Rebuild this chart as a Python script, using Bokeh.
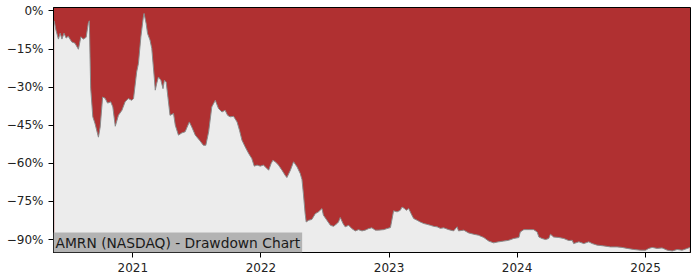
import pandas as pd
from bokeh.plotting import figure
from bokeh.models import (ColumnDataSource, FixedTicker, CustomJSTickFormatter, Label,
                          Range1d, DatetimeTickFormatter)
from bokeh.embed import file_html
from bokeh.resources import INLINE

ticker_name = "AMRN (NASDAQ) - Drawdown Chart"

dates = [
    "2020-05-22", "2020-05-27", "2020-06-03", "2020-06-08", "2020-06-13", "2020-06-19", "2020-06-25",
    "2020-07-01", "2020-07-11", "2020-07-20", "2020-07-30", "2020-08-06", "2020-08-13", "2020-08-21",
    "2020-08-27", "2020-08-30", "2020-09-03", "2020-09-09", "2020-09-15", "2020-09-25", "2020-09-30",
    "2020-10-07", "2020-10-14", "2020-10-21", "2020-10-30", "2020-11-05", "2020-11-12", "2020-11-21",
    "2020-12-01", "2020-12-10", "2020-12-19", "2020-12-29", "2021-01-03", "2021-01-12", "2021-01-17",
    "2021-01-24", "2021-01-31", "2021-02-02", "2021-02-08", "2021-02-12", "2021-02-19", "2021-02-24",
    "2021-03-03", "2021-03-06", "2021-03-10", "2021-03-15", "2021-03-22", "2021-03-28", "2021-04-01",
    "2021-04-06", "2021-04-11", "2021-04-17", "2021-04-27", "2021-05-02", "2021-05-11", "2021-05-21",
    "2021-05-30", "2021-06-11", "2021-06-18", "2021-06-28", "2021-07-10", "2021-07-21", "2021-07-28",
    "2021-08-05", "2021-08-14", "2021-08-24", "2021-09-02", "2021-09-12", "2021-09-21", "2021-09-28",
    "2021-10-05", "2021-10-15", "2021-10-25", "2021-11-01", "2021-11-08", "2021-11-17", "2021-11-27",
    "2021-12-06", "2021-12-13", "2021-12-21", "2021-12-30", "2022-01-08", "2022-01-16", "2022-01-23",
    "2022-01-30", "2022-02-04", "2022-02-11", "2022-02-20", "2022-03-02", "2022-03-11", "2022-03-16",
    "2022-03-26", "2022-04-04", "2022-04-14", "2022-04-23", "2022-04-28", "2022-05-02", "2022-05-07",
    "2022-05-10", "2022-05-17", "2022-05-26", "2022-06-05", "2022-06-14", "2022-06-24", "2022-06-28",
    "2022-07-08", "2022-07-18", "2022-07-27", "2022-08-06", "2022-08-10", "2022-08-15", "2022-08-23",
    "2022-08-29", "2022-09-08", "2022-09-17", "2022-09-27", "2022-10-06", "2022-10-16", "2022-10-25",
    "2022-11-04", "2022-11-13", "2022-11-23", "2022-12-02", "2022-12-17", "2022-12-26", "2023-01-05",
    "2023-01-09", "2023-01-14", "2023-01-24", "2023-02-02", "2023-02-07", "2023-02-14", "2023-02-19",
    "2023-02-26", "2023-03-05", "2023-03-12", "2023-03-22", "2023-03-31", "2023-04-10", "2023-04-19",
    "2023-04-29", "2023-05-08", "2023-05-18", "2023-05-27", "2023-06-06", "2023-06-20", "2023-07-04",
    "2023-07-14", "2023-07-18", "2023-08-02", "2023-08-16", "2023-08-30", "2023-09-13", "2023-09-28",
    "2023-10-12", "2023-10-26", "2023-11-09", "2023-11-24", "2023-12-08", "2023-12-22", "2024-01-06",
    "2024-01-10", "2024-01-20", "2024-02-03", "2024-02-17", "2024-02-27", "2024-03-03", "2024-03-12",
    "2024-03-22", "2024-03-31", "2024-04-05", "2024-04-14", "2024-04-29", "2024-05-13", "2024-05-27",
    "2024-06-06", "2024-06-10", "2024-06-25", "2024-07-09", "2024-07-23", "2024-08-02", "2024-08-16",
    "2024-09-04", "2024-09-23", "2024-10-12", "2024-10-26", "2024-11-10", "2024-11-28", "2024-12-18",
    "2025-01-01", "2025-01-10", "2025-01-20", "2025-02-03", "2025-02-17", "2025-03-04", "2025-03-18",
    "2025-04-01", "2025-04-15", "2025-04-30", "2025-05-07",
]

drawdown_pct = [
    -3.9, -7.6, -11.1, -8.8, -11.1, -8.8, -10.7,
    -10.0, -12.2, -12.7, -15.1, -10.2, -11.1, -10.4,
    -5.0, -3.9, -30.4, -41.7, -44.2, -49.7, -45.7,
    -33.9, -34.4, -36.3, -35.8, -37.8, -45.4, -41.1,
    -39.1, -35.8, -34.5, -35.2, -34.5, -24.0, -20.7,
    -10.2, -2.4, -1.0, -5.0, -8.9, -11.5, -14.8,
    -26.0, -31.2, -28.6, -26.0, -27.3, -30.6, -27.3,
    -28.0, -33.9, -41.1, -40.4, -45.0, -48.9, -48.0,
    -47.6, -43.7, -45.7, -48.9, -50.9, -52.9, -52.9,
    -47.6, -37.8, -35.2, -38.4, -39.8, -39.1, -41.1,
    -41.7, -41.5, -43.7, -47.0, -50.9, -53.5, -56.1,
    -58.1, -61.1, -60.7, -61.1, -60.7, -61.7, -62.7,
    -60.1, -58.8, -59.4, -60.7, -62.7, -64.7, -65.6,
    -62.7, -59.4, -61.4, -64.0, -66.4, -71.9, -79.8,
    -83.1, -82.4, -82.1, -79.8, -79.1, -77.8, -80.4,
    -82.4, -84.4, -84.8, -83.7, -83.1, -81.3, -83.7,
    -85.0, -84.4, -85.7, -86.6, -86.1, -86.6, -86.3,
    -85.7, -85.4, -86.3, -86.3, -86.1, -85.7, -85.3,
    -82.4, -78.7, -79.1, -78.5, -77.2, -77.8, -78.5,
    -77.8, -79.8, -81.7, -82.4, -83.1, -83.7, -84.0,
    -84.4, -84.8, -85.0, -85.6, -85.4, -86.1, -86.6,
    -85.0, -86.6, -86.3, -87.4, -87.9, -88.3, -89.2,
    -90.6, -91.3, -90.9, -90.6, -90.3, -89.6, -89.2,
    -87.0, -86.1, -86.1, -86.1, -87.0, -89.0, -89.6,
    -90.0, -89.6, -87.9, -89.0, -89.2, -89.6, -90.4,
    -90.3, -91.6, -90.9, -91.6, -90.9, -91.6, -92.2,
    -92.5, -92.9, -92.9, -93.1, -93.5, -93.9, -94.2,
    -94.2, -93.5, -93.1, -93.5, -93.3, -94.2, -94.5,
    -93.9, -94.2, -93.5, -93.1,
]

year_ticks = ["2021-01-01", "2022-01-01", "2023-01-01", "2024-01-01", "2025-01-01"]
pct_ticks = [0, -15, -30, -45, -60, -75, -90]

src = ColumnDataSource(dict(date=pd.to_datetime(dates), dd=drawdown_pct))

p = figure(width=700, height=280, x_axis_type="datetime",
           output_backend="svg", toolbar_location=None,
           x_range=Range1d(pd.Timestamp("2020-05-20"), pd.Timestamp("2025-05-09")),
           y_range=Range1d(-95.1, 1.34),
           min_border_left=53, min_border_right=10, min_border_top=7, min_border_bottom=28)

p.background_fill_color = "#b03031"
p.border_fill_color = "white"
p.outline_line_color = "black"
p.outline_line_width = 1
p.grid.visible = False

p.varea(x="date", y1=-100, y2="dd", source=src, fill_color="#ececec")
p.line(x="date", y="dd", source=src, line_color="#8a8a8a", line_width=1)

p.xaxis.ticker = FixedTicker(ticks=[pd.Timestamp(t).value // 10**6 for t in year_ticks])
p.xaxis.formatter = DatetimeTickFormatter(years="%Y", months="%Y", days="%Y")
p.yaxis.ticker = FixedTicker(ticks=pct_ticks)
p.yaxis.formatter = CustomJSTickFormatter(
    code="return (tick < 0 ? '\u2212' : '') + Math.abs(tick).toFixed(0) + '%';")

for ax in (p.xaxis, p.yaxis):
    ax.axis_line_color = "black"
    ax.major_tick_line_color = "black"
    ax.minor_tick_line_color = None
    ax.major_tick_out = 5
    ax.major_tick_in = 0
    ax.major_label_text_font = "DejaVu Sans"
    ax.major_label_text_font_size = "12px"
    ax.major_label_text_color = "#222222"
    ax.major_label_standoff = 5

p.add_layout(Label(x=0, y=0, x_units="screen", y_units="screen", text=ticker_name,
                   text_font="DejaVu Sans", text_font_size="13.8px", text_color="#1a1a1a",
                   text_align="left", text_baseline="bottom",
                   background_fill_color="#b3b3b3", padding=2))

open("out.html", "w").write(file_html(p, INLINE))
